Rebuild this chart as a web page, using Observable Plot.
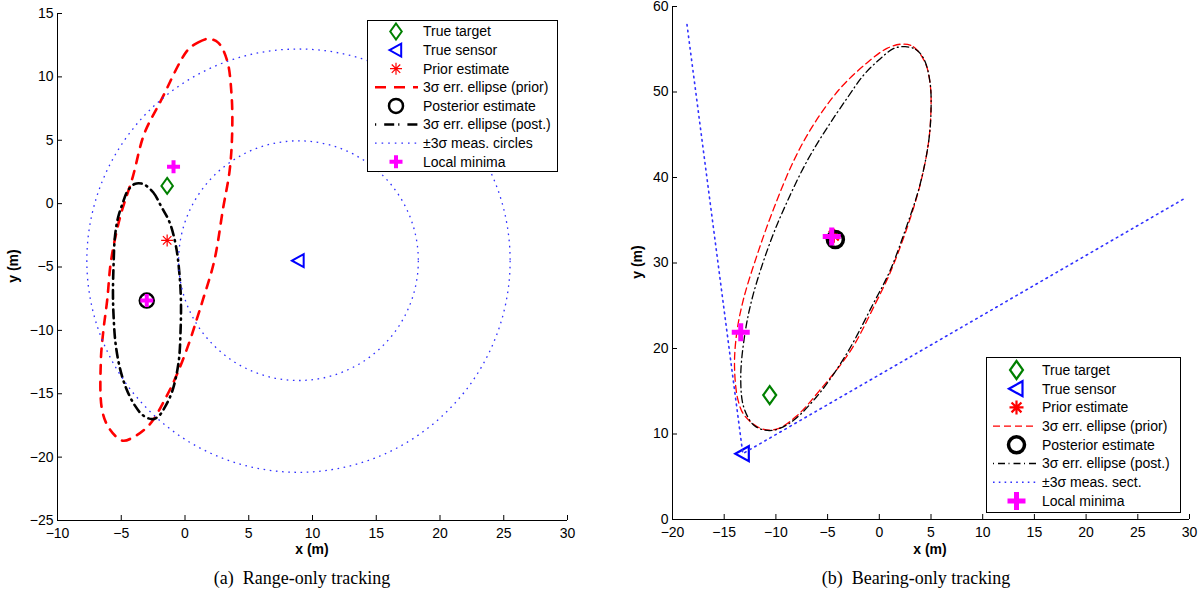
<!DOCTYPE html>
<html><head><meta charset="utf-8">
<script src="https://cdn.jsdelivr.net/npm/d3@7"></script>
<script src="https://cdn.jsdelivr.net/npm/@observablehq/plot@0.6"></script>
<style>
body{margin:0;background:#fff;width:1201px;height:605px;position:relative;overflow:hidden;font-family:"Liberation Sans",Arial,sans-serif;color:#000;}
.panel{position:absolute;top:0;}
.lbl{position:absolute;font-size:14px;font-weight:bold;white-space:nowrap;}
.cap{position:absolute;font-family:"Liberation Serif","Times New Roman",serif;font-size:18px;white-space:nowrap;transform:translate(-50%,-50%);}
.cap span{margin-right:9px;}
.leg{position:absolute;overflow:visible;}
</style></head><body>
<div id="pa" class="panel" style="left:0px"></div>
<div id="pb" class="panel" style="left:600px"></div>
<div class="lbl" style="left:312px;top:549px;transform:translate(-50%,-50%)">x (m)</div>
<div class="lbl" style="left:930px;top:549px;transform:translate(-50%,-50%)">x (m)</div>
<div class="lbl" style="left:13px;top:266px;transform:translate(-50%,-50%) rotate(-90deg)">y (m)</div>
<div class="lbl" style="left:637px;top:262px;transform:translate(-50%,-50%) rotate(-90deg)">y (m)</div>
<div class="cap" style="left:302px;top:578px"><span>(a)</span>Range-only tracking</div>
<div class="cap" style="left:916px;top:578px"><span>(b)</span>Bearing-only tracking</div>
<script>
// ---------- Panel (a): range-only tracking ----------
const aXTicks = [-10, -5, 0, 5, 10, 15, 20, 25, 30];
const aYTicks = [-25, -20, -15, -10, -5, 0, 5, 10, 15];
const aTrueTarget = [[-1.4, 1.4]];
const aTrueSensor = [[8.9, -4.5]];
const aPriorEst = [[-1.4, -2.9]];
const aPostEst = [[-3.0, -7.65]];
const aLocalMinima = [[-3.0, -7.65], [-0.9, 2.9]];
const aMeasRadii = [9.4, 16.6]; // +-3 sigma range circles around the sensor
const aPriorEllipse = [[0.2,12.1],[1.0,12.7],[1.8,13.0],[2.6,12.7],[3.3,11.3],[3.65,8.6],[3.7,5.6],[3.5,2.6],[3.0,-0.3],[2.3,-4.5],[1.4,-7.6],[0.9,-9.2],[0.3,-11.05],[-0.6,-13.4],[-1.5,-15.3],[-2.75,-17.4],[-4.0,-18.4],[-4.9,-18.7],[-5.9,-17.8],[-6.5,-16.3],[-6.6,-12.4],[-6.4,-10.0],[-6.1,-7.6],[-5.8,-4.5],[-5.1,-1.1],[-4.1,2.1],[-3.2,5.5],[-1.9,8.1]];
const aPostEllipse = [[-3.3,1.55],[-2.5,0.9],[-1.9,-0.16],[-1.2,-1.5],[-0.7,-3.4],[-0.44,-5.5],[-0.32,-7.6],[-0.35,-10.1],[-0.5,-12.5],[-1.0,-14.8],[-1.6,-16.1],[-2.1,-16.8],[-2.6,-17.0],[-3.3,-16.7],[-3.95,-15.9],[-4.6,-14.6],[-5.1,-13.0],[-5.45,-11.0],[-5.6,-8.9],[-5.65,-7.1],[-5.6,-4.75],[-5.5,-2.66],[-5.25,-1.1],[-4.9,0],[-4.5,1.0],[-3.95,1.55]];

// ---------- Panel (b): bearing-only tracking ----------
const bXTicks = [-20, -15, -10, -5, 0, 5, 10, 15, 20, 25, 30];
const bYTicks = [0, 10, 20, 30, 40, 50, 60];
const bTrueTarget = [[-10.6, 14.55]];
const bTrueSensor = [[-13.2, 7.7]];
const bPriorEst = [[-4.4, 33.2]];
const bPostEst = [[-4.25, 32.75]];
const bLocalMinima = [[-4.6, 33.1], [-13.4, 21.9]];
const bMeasSector = [[-18.6, 57.9], [-13.2, 7.7], [29.6, 37.6]];
const bPriorEllipse = [[2.2,55.6],[3.3,55.3],[4.45,53.4],[4.93,50.8],[5.0,48.1],[4.77,44.2],[3.96,39.2],[2.68,34.1],[1.06,28.9],[-0.4,25.2],[-2.8,19.7],[-5.8,15.05],[-8.0,12.1],[-9.85,10.6],[-11.35,10.6],[-13.0,12.1],[-13.65,13.9],[-14.0,17.8],[-13.8,21.7],[-13.15,25.7],[-11.8,31.0],[-10.2,36.4],[-8.3,41.9],[-6.35,46.2],[-3.8,50.4],[-1.2,53.4],[0.74,55.1]];
const bPostEllipse = [[2.5,55.3],[3.5,55.0],[4.3,53.9],[4.9,51.2],[5.0,47.7],[4.75,44.0],[3.9,39.0],[2.5,33.8],[1.0,29.0],[-0.6,25.2],[-3.2,19.3],[-6.1,14.3],[-8.75,11.2],[-10.6,10.4],[-12.1,11.0],[-13.1,13.1],[-13.4,16.6],[-13.0,21.7],[-12.2,26.3],[-10.5,32.6],[-8.9,37.2],[-7.0,41.9],[-5.05,45.8],[-3.1,49.3],[-1.5,52.0],[0.1,53.9],[1.4,55.1]];

// ---------- styles ----------
const GREEN = "#008000", BLUE = "#0000ff", RED = "#ff0000", MAGENTA = "#ff00ff", DOTBLUE = "#3030ff";
const rad = size => Math.sqrt(size / Math.PI);
const symDiamond = {draw(c, s) { const r = rad(s), w = r * 0.72; c.moveTo(0, -r); c.lineTo(w, 0); c.lineTo(0, r); c.lineTo(-w, 0); c.closePath(); }};
const symTriLeft = {draw(c, s) { const r = rad(s); c.moveTo(-r, 0); c.lineTo(r * 0.8, -r); c.lineTo(r * 0.8, r); c.closePath(); }};
const symAsterisk = {draw(c, s) { const r = rad(s), d = r * Math.SQRT1_2; c.moveTo(-r, 0); c.lineTo(r, 0); c.moveTo(0, -r); c.lineTo(0, r); c.moveTo(-d, -d); c.lineTo(d, d); c.moveTo(-d, d); c.lineTo(d, -d); }};
const symPlus = {draw(c, s) { const r = rad(s); c.moveTo(-r, 0); c.lineTo(r, 0); c.moveTo(0, -r); c.lineTo(0, r); }};
const symCircle = {draw(c, s) { const r = rad(s); c.moveTo(r, 0); c.arc(0, 0, r, 0, 2 * Math.PI); }};

const fmt = d => d < 0 ? "\u2212" + Math.abs(d) : String(d);
const XY = {x: d => d[0], y: d => d[1]};

function axesMarks(xTicks, yTicks, innerW, innerH) {
  return [
    Plot.tickX(xTicks, {x: d => d, stroke: "#000", insetTop: innerH - 5}),
    Plot.tickY(yTicks, {y: d => d, stroke: "#000", insetRight: innerW - 5}),
    Plot.ruleX([xTicks[0]], {stroke: "#000"}),
    Plot.ruleY([yTicks[0]], {stroke: "#000"}),
    Plot.axisX({ticks: xTicks, tickSize: 0, tickPadding: 8, label: null, tickFormat: fmt}),
    Plot.axisY({ticks: yTicks, tickSize: 0, tickPadding: 4, label: null, tickFormat: fmt})
  ];
}

// ---------- Panel (a) ----------
{
  const width = 600, height = 560, mL = 57, mR = 33, mT = 13, mB = 40;
  const innerW = width - mL - mR, innerH = height - mT - mB;
  const ppu = innerW / (aXTicks[aXTicks.length - 1] - aXTicks[0]);
  const circles = aMeasRadii.map(r => ({x: aTrueSensor[0][0], y: aTrueSensor[0][1], r}));
  const chart = Plot.plot({
    width, height, marginLeft: mL, marginRight: mR, marginTop: mT, marginBottom: mB,
    style: {fontFamily: "Liberation Sans, Arial, sans-serif", fontSize: "14px", overflow: "visible", background: "transparent"},
    x: {domain: [aXTicks[0], aXTicks[aXTicks.length - 1]]},
    y: {domain: [aYTicks[0], aYTicks[aYTicks.length - 1]]},
    r: {type: "linear", domain: [0, 1], range: [0, ppu]},
    marks: [
      ...axesMarks(aXTicks, aYTicks, innerW, innerH),
      Plot.dot(aTrueTarget, {...XY, symbol: symDiamond, r: 8, stroke: GREEN, strokeWidth: 2, fill: "none"}),
      Plot.dot(aTrueSensor, {...XY, symbol: symTriLeft, r: 6.5, stroke: BLUE, strokeWidth: 2, fill: "none"}),
      Plot.dot(aPriorEst, {...XY, symbol: symAsterisk, r: 6, stroke: RED, strokeWidth: 1.2}),
      Plot.line(aPriorEllipse, {...XY, curve: "catmull-rom-closed", stroke: RED, strokeWidth: 2.6, strokeDasharray: "8.5,8"}),
      Plot.dot(aPostEst, {...XY, symbol: symCircle, r: 7, stroke: "#000", strokeWidth: 2.5, fill: "none"}),
      Plot.line(aPostEllipse, {...XY, curve: "catmull-rom-closed", stroke: "#000", strokeWidth: 2.6, strokeDasharray: "8.5,5,1.2,5"}),
      Plot.dot(circles, {x: "x", y: "y", r: "r", stroke: DOTBLUE, strokeWidth: 1.3, strokeDasharray: "1.6,4.6", fill: "none"}),
      Plot.dot(aLocalMinima, {...XY, symbol: symPlus, r: 6.5, stroke: MAGENTA, strokeWidth: 4})
    ]
  });
  document.getElementById("pa").append(chart);
}

// ---------- Panel (b) ----------
{
  const width = 601, height = 560, mL = 72, mR = 12, mT = 6, mB = 41;
  const innerW = width - mL - mR, innerH = height - mT - mB;
  const chart = Plot.plot({
    width, height, marginLeft: mL, marginRight: mR, marginTop: mT, marginBottom: mB,
    style: {fontFamily: "Liberation Sans, Arial, sans-serif", fontSize: "14px", overflow: "visible", background: "transparent"},
    x: {domain: [bXTicks[0], bXTicks[bXTicks.length - 1]]},
    y: {domain: [bYTicks[0], bYTicks[bYTicks.length - 1]]},
    marks: [
      ...axesMarks(bXTicks, bYTicks, innerW, innerH),
      Plot.dot(bTrueTarget, {...XY, symbol: symDiamond, r: 9, stroke: GREEN, strokeWidth: 2.2, fill: "none"}),
      Plot.dot(bTrueSensor, {...XY, symbol: symTriLeft, r: 7.5, stroke: BLUE, strokeWidth: 2.2, fill: "none"}),
      Plot.dot(bPriorEst, {...XY, symbol: symAsterisk, r: 7, stroke: RED, strokeWidth: 2.2}),
      Plot.line(bPriorEllipse, {...XY, curve: "catmull-rom-closed", stroke: RED, strokeWidth: 1.3, strokeDasharray: "7,4"}),
      Plot.dot(bPostEst, {...XY, symbol: symCircle, r: 8, stroke: "#000", strokeWidth: 3.5, fill: "none"}),
      Plot.line(bPostEllipse, {...XY, curve: "catmull-rom-closed", stroke: "#000", strokeWidth: 1.3, strokeDasharray: "7,3.5,1,3.5"}),
      Plot.line(bMeasSector, {...XY, stroke: DOTBLUE, strokeWidth: 1.6, strokeDasharray: "1.6,4.2"}),
      Plot.dot(bLocalMinima, {...XY, symbol: symPlus, r: 9, stroke: MAGENTA, strokeWidth: 5})
    ]
  });
  document.getElementById("pb").append(chart);
}

// ---------- legends ----------
function legend({left, top, width, height, rows, x1, x2, mx, tx, items}) {
  const svg = d3.select("body").append("svg").attr("class", "leg")
    .style("left", left + "px").style("top", top + "px")
    .attr("width", width).attr("height", height);
  svg.append("rect").attr("x", 0.5).attr("y", 0.5).attr("width", width - 1).attr("height", height - 1)
    .attr("fill", "#fff").attr("stroke", "#000").attr("stroke-width", 1);
  items.forEach((it, i) => {
    const y = rows[i];
    if (it.line) {
      svg.append("line").attr("x1", x1).attr("x2", x2).attr("y1", y).attr("y2", y)
        .attr("stroke", it.stroke).attr("stroke-width", it.sw).attr("stroke-dasharray", it.dash);
    } else {
      const p = d3.path(); it.sym.draw(p, it.r * it.r * Math.PI);
      svg.append("path").attr("d", p.toString()).attr("transform", `translate(${mx},${y})`)
        .attr("fill", "none").attr("stroke", it.stroke).attr("stroke-width", it.sw);
    }
    svg.append("text").attr("x", tx).attr("y", y).attr("dy", "0.35em")
      .attr("font-family", "Liberation Sans, Arial, sans-serif").attr("font-size", 14).text(it.label);
  });
}

legend({left: 367, top: 20, width: 191, height: 152,
  rows: [11.5, 30.1, 48.7, 67.3, 85.9, 104.5, 123.1, 141.7], x1: 8, x2: 51, mx: 29, tx: 56,
  items: [
    {label: "True target", sym: symDiamond, r: 8, stroke: GREEN, sw: 2},
    {label: "True sensor", sym: symTriLeft, r: 6.5, stroke: BLUE, sw: 2},
    {label: "Prior estimate", sym: symAsterisk, r: 6, stroke: RED, sw: 1.2},
    {label: "3\u03c3 err. ellipse (prior)", line: true, stroke: RED, sw: 2.6, dash: "11,8"},
    {label: "Posterior estimate", sym: symCircle, r: 7, stroke: "#000", sw: 2.5},
    {label: "3\u03c3 err. ellipse (post.)", line: true, stroke: "#000", sw: 2.6, dash: "1.2,8,10,4"},
    {label: "\u00b13\u03c3 meas. circles", line: true, stroke: DOTBLUE, sw: 1.3, dash: "1.6,5"},
    {label: "Local minima", sym: symPlus, r: 6.5, stroke: MAGENTA, sw: 4}
  ]});

legend({left: 986, top: 357, width: 195, height: 156,
  rows: [13, 31.7, 50.4, 69.1, 87.8, 106.5, 125.2, 143.9], x1: 7, x2: 51, mx: 30.5, tx: 56,
  items: [
    {label: "True target", sym: symDiamond, r: 9, stroke: GREEN, sw: 2.2},
    {label: "True sensor", sym: symTriLeft, r: 7.5, stroke: BLUE, sw: 2.2},
    {label: "Prior estimate", sym: symAsterisk, r: 7, stroke: RED, sw: 2.2},
    {label: "3\u03c3 err. ellipse (prior)", line: true, stroke: RED, sw: 1.3, dash: "7,4"},
    {label: "Posterior estimate", sym: symCircle, r: 8, stroke: "#000", sw: 3.5},
    {label: "3\u03c3 err. ellipse (post.)", line: true, stroke: "#000", sw: 1.3, dash: "1,4,7,3.5"},
    {label: "\u00b13\u03c3 meas. sect.", line: true, stroke: DOTBLUE, sw: 1.6, dash: "1.6,4.2"},
    {label: "Local minima", sym: symPlus, r: 9, stroke: MAGENTA, sw: 5}
  ]});
</script>
</body></html>
